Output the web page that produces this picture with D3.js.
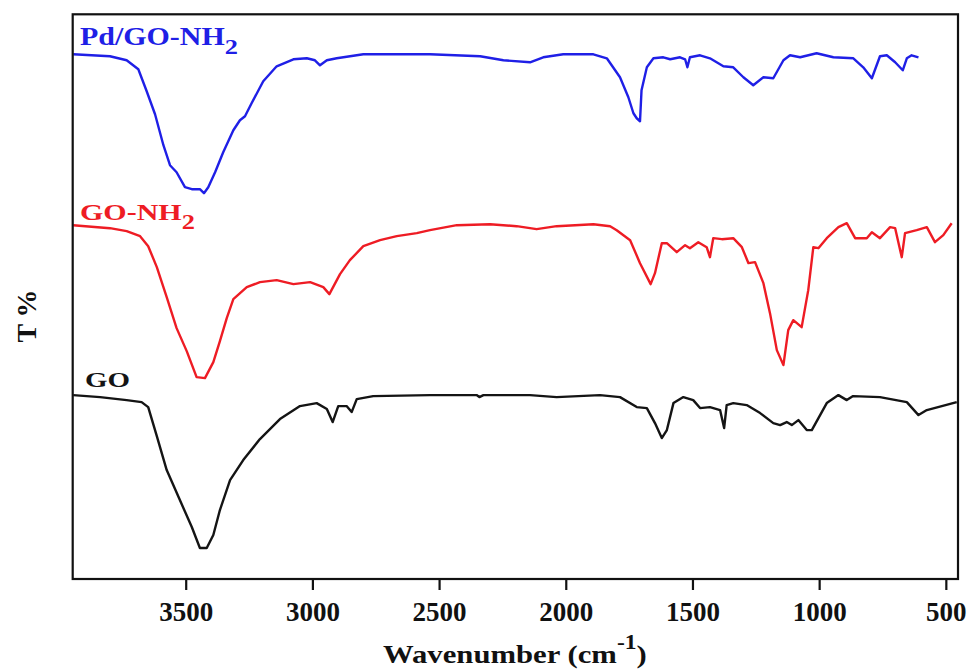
<!DOCTYPE html>
<html>
<head>
<meta charset="utf-8">
<script src="https://cdn.jsdelivr.net/npm/d3@7"></script>
<style>
  html, body { margin: 0; padding: 0; background: #fff; }
  svg { display: block; }
  text { font-family: "Liberation Serif", "Times New Roman", serif; font-weight: bold; }
</style>
</head>
<body>
<svg id="chart" width="969" height="671"></svg>
<script>
// ---------------- DATA ----------------
const seriesNames = ["GO", "GO-NH2", "Pd/GO-NH2"];
const xTickValues = [3500, 3000, 2500, 2000, 1500, 1000, 500];
const xAxisTitle = "Wavenumber (cm";
const yAxisTitle = "T %";

// GO (black)
const goWavenumber = [3944,3838,3733,3674,3648,3614,3575,3523,3476,3444,3417,3391,3365,3325,3273,3207,3128,3049,2983,2943,2920,2898,2865,2845,2825,2760,2536,2352,2341,2325,2141,2036,1865,1786,1720,1680,1648,1621,1601,1575,1536,1497,1470,1431,1391,1375,1365,1339,1286,1233,1181,1154,1128,1108,1082,1049,1029,970,924,891,866,760,654,608,575,457];
const goT = [184,182,179,177,172,143,109,79,52,31,31,44,69,99,119,140,160,173,176,170,157,173,173,167,180,183,184,184,182,184,184,182,184,182,172,171,156,141,149,176,182,179,171,172,169,151,174,176,174,166,156,154,157,154,159,149,149,176,184,179,183,182,177,164,169,177];

// GO-NH2 (red)
const goNh2Wavenumber = [3944,3799,3733,3680,3648,3614,3575,3536,3496,3457,3424,3391,3365,3338,3312,3259,3207,3141,3075,3009,2957,2933,2891,2852,2799,2733,2667,2588,2536,2430,2299,2194,2115,2036,1891,1825,1799,1746,1707,1665,1648,1621,1601,1562,1529,1510,1477,1444,1431,1418,1384,1339,1305,1279,1253,1220,1194,1167,1141,1122,1102,1069,1043,1023,1003,970,924,891,858,812,792,760,720,700,674,661,615,575,543,510,477];
const goNh2T = [354,351,348,343,333,312,282,251,228,202,201,217,238,261,280,292,297,299,295,297,292,285,305,319,333,339,343,346,349,354,355,353,350,353,355,353,349,339,316,295,306,336,336,327,334,331,337,332,322,341,340,341,332,316,317,296,266,229,214,249,259,252,289,332,331,341,352,356,341,341,347,341,352,351,322,346,349,352,337,344,356];

// Pd/GO-NH2 (blue)
const pdWavenumber = [3944,3799,3733,3687,3654,3621,3588,3562,3536,3503,3476,3444,3428,3411,3384,3352,3312,3286,3266,3240,3194,3141,3075,3022,2990,2970,2943,2904,2799,2536,2338,2246,2141,2089,2010,1891,1838,1786,1753,1733,1720,1707,1701,1680,1654,1615,1588,1549,1529,1520,1510,1470,1431,1378,1339,1299,1260,1220,1181,1141,1115,1075,1010,944,865,826,792,760,733,700,670,654,635,608];
const pdT = [525,523,519,510,488,465,434,414,407,392,390,390,386,392,407,427,449,459,463,476,498,513,520,521,519,514,519,521,525,525,523,519,517,522,525,525,521,502,482,466,461,458,489,512,521,522,520,522,520,512,522,524,521,513,512,502,494,502,501,519,524,522,526,522,521,512,501,523,524,517,509,521,524,522];

// ---------------- LAYOUT ----------------
const svg = d3.select("#chart");
const pLeft = 72.7, pRight = 958, pTop = 14.3, pBottom = 579;

const x = d3.scaleLinear().domain([3946, 452]).range([pLeft, pRight]);
const y = d3.scaleLinear().domain([0, 565]).range([pBottom, pTop]);

const series = [
  { name: seriesNames[0], wn: goWavenumber, t: goT, color: "#141414" },
  { name: seriesNames[1], wn: goNh2Wavenumber, t: goNh2T, color: "#ee1c24" },
  { name: seriesNames[2], wn: pdWavenumber, t: pdT, color: "#1f1fe6" }
];

const line = d3.line()
  .x(d => x(d[0]))
  .y(d => y(d[1]))
  .curve(d3.curveLinear);

series.forEach(s => {
  const pts = s.wn.map((w, i) => [w, s.t[i]]);
  svg.append("path")
    .datum(pts)
    .attr("fill", "none")
    .attr("stroke", s.color)
    .attr("stroke-width", 2.4)
    .attr("stroke-linejoin", "round")
    .attr("d", line);
});

// frame
svg.append("rect")
  .attr("x", pLeft).attr("y", pTop)
  .attr("width", pRight - pLeft).attr("height", pBottom - pTop)
  .attr("fill", "none").attr("stroke", "#111").attr("stroke-width", 2.2);

// x axis
const xAxis = d3.axisBottom(x).tickValues(xTickValues).tickFormat(d3.format("d"))
  .tickSize(11).tickSizeOuter(0);
const gx = svg.append("g").attr("transform", `translate(0,${pBottom})`).call(xAxis);
gx.select(".domain").remove();
gx.selectAll(".tick line").attr("stroke", "#111").attr("stroke-width", 2.2);
gx.selectAll(".tick text")
  .attr("fill", "#111")
  .attr("font-size", 27)
  .attr("dy", 0)
  .attr("y", 42)
  .style("font-family", '"Liberation Serif", "Times New Roman", serif')
  .style("font-weight", "bold");

function stretch(sel, x0, targetW) {
  const w = sel.node().getBBox().width;
  const s = targetW / w;
  sel.attr("transform", `translate(${x0},0) scale(${s},1) translate(${-x0},0)`);
}

// x axis title
const xt = svg.append("text")
  .attr("x", 383).attr("y", 663)
  .attr("font-size", 26).attr("fill", "#111");
xt.append("tspan").text(xAxisTitle);
xt.append("tspan").attr("font-size", 20).attr("dy", -14).text("-1");
xt.append("tspan").attr("dy", 14).text(")");
stretch(xt, 383, 264);

// y axis title
svg.append("text")
  .attr("transform", "translate(36,316) rotate(-90)")
  .attr("text-anchor", "middle")
  .attr("font-size", 28).attr("fill", "#111")
  .text(yAxisTitle);

// series labels
function label(base, sub, xx, yy, size, color, width) {
  const t = svg.append("text").attr("x", xx).attr("y", yy)
    .attr("font-size", size).attr("fill", color);
  t.append("tspan").text(base);
  if (sub) t.append("tspan").attr("font-size", size * 0.88).attr("dy", size * 0.36).text(sub);
  stretch(t, xx, width);
}
label("Pd/GO-NH", "2", 80, 45, 25, "#1f1fe6", 158);
label("GO-NH", "2", 80, 220, 24, "#ee1c24", 115);
label("GO", null, 85, 387, 21, "#141414", 45);
</script>
</body>
</html>
